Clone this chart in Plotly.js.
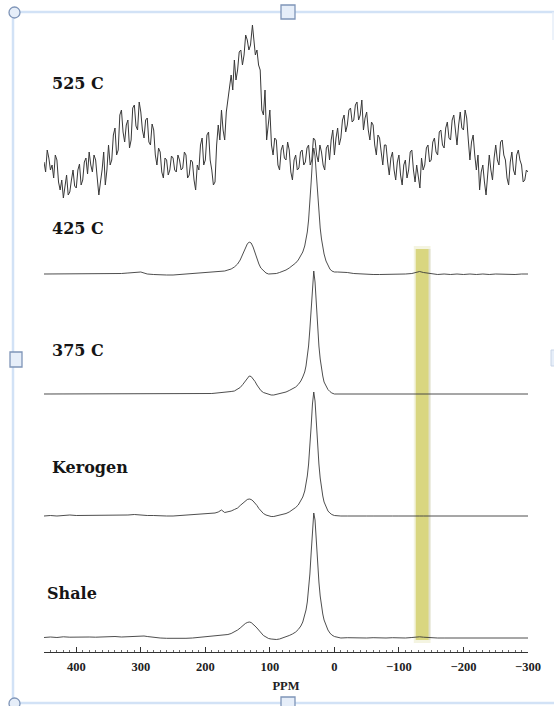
<!DOCTYPE html>
<html>
<head>
<meta charset="utf-8">
<script src="https://cdn.plot.ly/plotly-3.0.1.min.js"></script>
<style>
  html, body { margin: 0; padding: 0; background: #ffffff; }
  #chart { width: 554px; height: 706px; }
</style>
</head>
<body>
<div id="chart"></div>
<script>
// ---------- DATA ----------
// Sample labels (top to bottom)
const sampleNames = ["525 C", "425 C", "375 C", "Kerogen", "Shale"];

// Shared chemical-shift grid (ppm) for the four smooth spectra
const ppmGrid = [
  450,440,430,420,410,400,390,380,370,360,
  350,340,330,320,310,305,300,295,290,280,
  270,260,250,240,230,220,210,200,190,185,
  180,175,170,165,160,155,150,146,142,138,
  135,132,129,126,123,120,117,114,110,106,
  102,98,94,90,85,80,75,70,65,60,
  56,52,49,46,44,42,40,38,36,34,
  32,30,28,26,24,22,20,18,16,13,
  10,7,4,0,-5,-10,-20,-30,-40,-50,
  -60,-70,-80,-90,-100,-110,-120,-126,-132,-138,
  -146,-160,-170,-180,-190,-200,-210,-220,-230,-240,
  -250,-260,-270,-280,-290,-300
];

// Intensities (arbitrary units, above each spectrum's own baseline)
const shaleI = [
  0.5,1,0.5,1.2,0.8,1,0.5,1,0.8,1.2,
  1,1.5,1,1.5,2,2.2,2.3,2,1.5,0.5,
  0,-0.3,-0.5,-0.5,-0.3,0,0.5,1,1.5,2,
  2,2.5,3,3.5,4.5,6,8,10,12.5,14.5,
  15.5,16,15.5,14,12,10,7.5,5,2.5,1,
  -0.5,-1,-1.5,-1.5,-1,0,1,2.5,4,6,
  8.5,12,16,22,28,36,48,64,85,108,
  125,118,95,74,56,42,32,24,18,12,
  8,5,3,1.5,0.5,0,0.3,0,-0.3,0,
  0.3,0,0,0.3,0,0,0.5,1,1.2,0.8,
  0.3,0,0,0,0.3,0,0.2,0,0.3,0,
  0.2,0,0.3,0,0,0
];
const kerogenI = [
  0,0.5,0,0.5,1,0.5,0.5,1,0.5,0.5,
  1,1,0.5,1,1.5,1.2,1,0.8,0.5,0.5,
  0,0,0,0.5,0.5,1,1.5,2,2.5,3,
  4,6,3.5,4,5,6.5,8,10.5,13,15.5,
  16.5,17,16.5,15,13,10.5,7.5,5,2.5,1,
  0,-0.5,-0.5,0,0.5,1.5,2.5,4,6,8.5,
  11,15,19,25,31,40,52,68,90,112,
  124,115,92,70,52,38,28,20,14,9,
  5,3,1.5,0.5,0,0,0,0.2,0,0,
  0,0.2,0,0,0,0.2,0,0,0,0,
  0,0,0.2,0,0,0,0,0.2,0,0,
  0,0,0,0.2,0,0
];
const c375I = [
  0,0,0.3,0,0,0.3,0,0,0.3,0,
  0,0.3,0,0,0.3,0,0,0.3,0,0,
  0,0,0.3,0,0,0,0.3,0.3,0.5,0.8,
  1,1.3,1.6,2,2.5,3,4.5,6.5,9.5,13,
  16,18,17.5,15.5,12.5,9,6,3.5,1.5,0.5,
  -0.5,-1,-1,-0.5,0,1,2,3.5,5,7,
  9.5,13,17,22,28,36,48,65,88,110,
  123,112,88,66,48,35,25,18,12,8,
  4.5,2.5,1,0,0,0,0.2,0,0,0.2,
  0,0,0.2,0,0,0,0,0.2,0,0,
  0,0.2,0,0,0,0.2,0,0,0,0.2,
  0,0,0,0,0.2,0
];
const c425I = [
  0,0,0.5,0,0.5,0,0.5,0,0,0.5,
  0.5,0.5,0.5,1,1.5,2.5,2,1,0,-0.5,
  -1,-1,-1,-0.5,0,0,0.5,1,1.5,2.5,
  2,2.5,3,4,5,7,10,14,20,26,
  30,32,31,27,21,15,10,6,3,1,
  0,0,0,0.5,1.5,2.5,4,6,8.5,11,
  14,18,22,28,34,42,54,70,92,114,
  126,118,98,78,60,46,35,27,20,13,
  8,5,3,2,2,2,1.5,0.5,0,0,
  -0.5,-0.5,-0.5,-0.5,-0.5,0,0.5,1.5,2.5,1.5,
  0.5,-0.5,0,-0.5,0,-0.5,0,-0.5,0,-0.5,
  0,-0.3,0,-0.5,0,0
];

// Noisy 525 C spectrum, its own ppm sampling (2.5 ppm)
const ppm525 = [
  450,447.5,445,442.5,440,437.5,435,432.5,430,427.5,
  425,422.5,420,417.5,415,412.5,410,407.5,405,402.5,
  400,397.5,395,392.5,390,387.5,385,382.5,380,377.5,
  375,372.5,370,367.5,365,362.5,360,357.5,355,352.5,
  350,347.5,345,342.5,340,337.5,335,332.5,330,327.5,
  325,322.5,320,317.5,315,312.5,310,307.5,305,302.5,
  300,297.5,295,292.5,290,287.5,285,282.5,280,277.5,
  275,272.5,270,267.5,265,262.5,260,257.5,255,252.5,
  250,247.5,245,242.5,240,237.5,235,232.5,230,227.5,
  225,222.5,220,217.5,215,212.5,210,207.5,205,202.5,
  200,197.5,195,192.5,190,187.5,185,182.5,180,177.5,
  175,172.5,170,167.5,165,162.5,160,157.5,155,152.5,
  150,147.5,145,142.5,140,137.5,135,132.5,130,127,
  125,122.5,120,117.5,115,112.5,110,107.5,105,102.5,
  100,97.5,95,92.5,90,87.5,85,82.5,80,77.5,
  75,72.5,70,67.5,65,62.5,60,57.5,55,52.5,
  50,47.5,45,42.5,40,37.5,35,32.5,30,27.5,
  25,22.5,20,17.5,15,12.5,10,7.5,5,2.5,
  0,-2.5,-5,-7.5,-10,-12.5,-15,-17.5,-20,-22.5,
  -25,-27.5,-30,-32.5,-35,-37.5,-40,-42.5,-45,-47.5,
  -50,-52.5,-55,-57.5,-60,-62.5,-65,-67.5,-70,-72.5,
  -75,-77.5,-80,-82.5,-85,-87.5,-90,-92.5,-95,-97.5,
  -100,-102.5,-105,-107.5,-110,-112.5,-115,-117.5,-120,-122.5,
  -125,-127.5,-130,-132.5,-135,-137.5,-140,-142.5,-145,-147.5,
  -150,-152.5,-155,-157.5,-160,-162.5,-165,-167.5,-170,-172.5,
  -175,-177.5,-180,-182.5,-185,-187.5,-190,-192.5,-195,-197.5,
  -200,-202.5,-205,-207.5,-210,-212.5,-215,-217.5,-220,-222.5,
  -225,-227.5,-230,-232.5,-235,-237.5,-240,-242.5,-245,-247.5,
  -250,-252.5,-255,-257.5,-260,-262.5,-265,-267.5,-270,-272.5,
  -275,-277.5,-280,-282.5,-285,-287.5,-290,-292.5,-295,-297.5,
  -300
];
const c525I = [
  38,28,50,42,30,35,22,45,40,18,
  10,20,2,15,25,5,8,20,30,14,
  12,30,36,15,20,38,42,26,48,35,
  28,45,40,22,5,18,30,48,15,30,
  55,35,40,65,72,45,50,85,90,68,
  58,75,80,52,60,92,95,74,70,98,
  88,70,62,80,82,58,55,76,70,45,
  35,52,48,28,22,42,40,25,30,44,
  42,30,28,45,40,30,32,48,45,22,
  25,40,38,20,10,35,30,55,62,35,
  40,65,68,40,30,15,18,55,75,60,
  90,70,60,88,100,115,125,110,140,120,
  130,148,150,135,145,165,160,150,155,175,
  158,145,150,135,130,90,85,110,60,75,
  90,55,45,62,60,35,30,50,55,42,
  40,58,50,28,20,40,45,30,32,48,
  50,35,38,52,55,35,40,62,60,45,
  38,55,48,35,30,52,55,40,60,70,
  45,62,72,55,62,80,85,68,75,90,
  92,78,80,95,98,80,85,100,70,82,
  88,70,60,78,75,55,45,65,62,48,
  35,55,55,38,25,42,48,30,20,38,
  45,25,15,35,40,22,30,48,50,30,
  18,35,22,12,42,30,35,52,55,38,
  40,58,62,48,45,68,70,55,52,72,
  78,62,60,80,85,68,55,75,88,72,
  70,90,82,60,40,58,65,45,30,45,
  10,28,35,18,5,25,45,30,20,42,
  55,40,35,58,60,45,40,22,15,38,
  48,30,25,45,50,40,35,18,20,30,
  28
];

// Axis
const xTickVals = [400,300,200,100,0,-100,-200,-300];
const xTitle = "PPM";
// Highlighted region (ppm)
const highlightPpm = [-126, -146];

// ---------- LAYOUT CONSTANTS (positions / styles) ----------
const W = 554, H = 706;
const M = {l: 44, r: 26, t: 20, b: 54};
const plotH = H - M.t - M.b;            // y data units == pixels
const baseline = {"525 C": 452, "425 C": 378, "375 C": 258, "Kerogen": 136, "Shale": 14};
const labelPos = {"525 C": [440, 569], "425 C": [440, 424], "375 C": [440, 302], "Kerogen": [440, 185], "Shale": [448, 59]};

function shift(arr, b) { return arr.map(v => v + b); }

const seriesDefs = [
  {name: "525 C",   x: ppm525,  y: c525I,    color: "#383838", width: 1.0},
  {name: "425 C",   x: ppmGrid, y: c425I,    color: "#3a3a3a", width: 0.9},
  {name: "375 C",   x: ppmGrid, y: c375I,    color: "#3a3a3a", width: 0.9},
  {name: "Kerogen", x: ppmGrid, y: kerogenI, color: "#3a3a3a", width: 0.9},
  {name: "Shale",   x: ppmGrid, y: shaleI,   color: "#3a3a3a", width: 0.9}
];

const traces = seriesDefs.map(s => ({
  type: "scatter", mode: "lines", name: s.name,
  x: s.x, y: shift(s.y, baseline[s.name]),
  line: {color: s.color, width: s.width},
  hoverinfo: "skip", cliponaxis: false
}));

const serif = "'Liberation Serif', 'Times New Roman', serif";
const annotations = sampleNames.map(n => ({
  xref: "x", yref: "y", x: labelPos[n][0], y: labelPos[n][1],
  text: n, showarrow: false, xanchor: "left", yanchor: "middle",
  font: {family: "'DejaVu Serif', serif", size: 16, color: "#151515", weight: "bold"}
}));

// pixel -> paper helpers for the frame decoration
const plotW = W - M.l - M.r;
const px = v => (v - M.l) / plotW;
const py = v => (H - M.b - v) / plotH;
const frameCol = "#d2e2f6";
const handleLine = "#7f95b8", handleFill = "#e6eef9";

const shapes = [
  // highlight band: soft halo + core + right shadow
  {type: "rect", xref: "x", yref: "y", x0: highlightPpm[0] + 3, x1: highlightPpm[1] - 3, y0: 9, y1: 406,
   fillcolor: "rgba(205,203,120,0.22)", line: {width: 0}, layer: "below"},
  {type: "rect", xref: "x", yref: "y", x0: highlightPpm[0], x1: highlightPpm[1], y0: 12, y1: 403,
   fillcolor: "rgba(214,211,118,0.9)", line: {width: 0}, layer: "below"},
  {type: "rect", xref: "x", yref: "y", x0: highlightPpm[1], x1: highlightPpm[1] - 3, y0: 12, y1: 403,
   fillcolor: "rgba(150,150,130,0.22)", line: {width: 0}, layer: "below"},
  // frame lines
  {type: "line", xref: "paper", yref: "paper", x0: px(13), x1: px(13), y0: py(12), y1: py(706), line: {color: frameCol, width: 2.5}},
  {type: "line", xref: "paper", yref: "paper", x0: px(13), x1: px(554), y0: py(12), y1: py(12), line: {color: frameCol, width: 2.5}},
  {type: "line", xref: "paper", yref: "paper", x0: px(13), x1: px(554), y0: py(703), y1: py(703), line: {color: frameCol, width: 2.5}},
  {type: "line", xref: "paper", yref: "paper", x0: px(553), x1: px(553), y0: py(12), y1: py(40), line: {color: "#e6eef8", width: 1.5}},
  // handles
  {type: "circle", xref: "paper", yref: "paper", x0: px(9), x1: px(20), y0: py(7), y1: py(18), fillcolor: handleFill, line: {color: handleLine, width: 1.3}},
  {type: "rect", xref: "paper", yref: "paper", x0: px(281), x1: px(295), y0: py(5), y1: py(19), fillcolor: handleFill, line: {color: handleLine, width: 1.3}},
  {type: "rect", xref: "paper", yref: "paper", x0: px(10), x1: px(22), y0: py(352), y1: py(367), fillcolor: handleFill, line: {color: handleLine, width: 1.3}},
  {type: "rect", xref: "paper", yref: "paper", x0: px(551), x1: px(562), y0: py(350), y1: py(366), fillcolor: handleFill, line: {color: "#c8d4e6", width: 1}},
  {type: "circle", xref: "paper", yref: "paper", x0: px(9), x1: px(20), y0: py(698), y1: py(709), fillcolor: handleFill, line: {color: handleLine, width: 1.3}},
  {type: "rect", xref: "paper", yref: "paper", x0: px(281), x1: px(295), y0: py(697), y1: py(710), fillcolor: handleFill, line: {color: handleLine, width: 1.3}}
];

const layout = {
  width: W, height: H,
  margin: M,
  paper_bgcolor: "#ffffff", plot_bgcolor: "#ffffff",
  showlegend: false,
  xaxis: {
    range: [450, -300], showgrid: false, zeroline: false,
    showline: true, linecolor: "#333333", linewidth: 1,
    tickmode: "array", tickvals: xTickVals,
    ticks: "inside", ticklen: 5, tickwidth: 1, tickcolor: "#333333",
    minor: {dtick: 10, tick0: 0, ticks: "inside", ticklen: 2.5, tickcolor: "#444444", tickwidth: 0.8, showgrid: false},
    tickfont: {family: serif, size: 12.5, color: "#222222", weight: "bold"},
    ticklabelstandoff: 3,
    title: {text: xTitle, font: {family: serif, size: 12.5, color: "#222222", weight: "bold"}, standoff: 8},
    fixedrange: true
  },
  yaxis: {range: [0, plotH], visible: false, fixedrange: true},
  annotations: annotations,
  shapes: shapes
};

Plotly.newPlot("chart", traces, layout, {staticPlot: true, displayModeBar: false});
</script>
</body>
</html>
